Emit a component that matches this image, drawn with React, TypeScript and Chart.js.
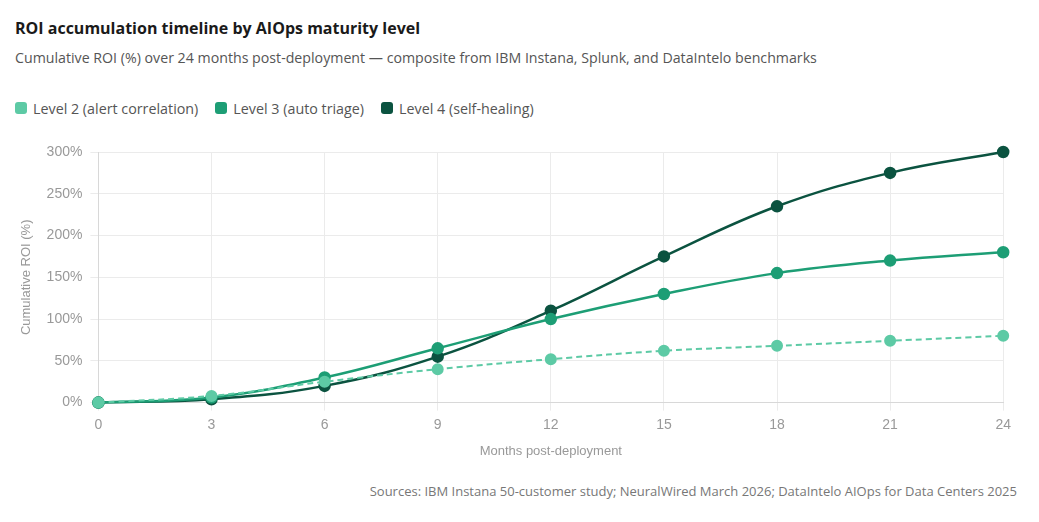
import React, { useEffect, useRef } from "react";
import { Chart, registerables } from "chart.js";

Chart.register(...registerables);

const months = [0, 3, 6, 9, 12, 15, 18, 21, 24];
const level2 = [0, 8, 25, 40, 52, 62, 68, 74, 80];
const level3 = [0, 6, 30, 65, 100, 130, 155, 170, 180];
const level4 = [0, 4, 20, 55, 110, 175, 235, 275, 300];
const seriesNames = ["Level 2 (alert correlation)", "Level 3 (auto triage)", "Level 4 (self-healing)"];
const seriesColors = ["#5dcaa5", "#1d9e75", "#0b5340"];

const HTML_FONT = '"Segoe UI", "Open Sans", "Noto Sans", sans-serif';

export default function App() {
  const canvasRef = useRef<HTMLCanvasElement>(null);

  useEffect(() => {
    if (!canvasRef.current) return;
    const mk = (i: number, data: number[], dashed: boolean) => ({
      label: seriesNames[i],
      data,
      borderColor: seriesColors[i],
      backgroundColor: seriesColors[i],
      borderWidth: dashed ? 2 : 2.5,
      borderDash: dashed ? [6, 4] : [],
      pointRadius: 5,
      pointHoverRadius: 6,
      pointBackgroundColor: seriesColors[i],
      pointBorderColor: seriesColors[i],
      tension: 0.4,
      fill: false,
      clip: false as any,
    });
    const chart = new Chart(canvasRef.current, {
      type: "line",
      data: {
        labels: months.map(String),
        datasets: [mk(0, level2, true), mk(1, level3, false), mk(2, level4, false)],
      },
      options: {
        animation: false,
        responsive: true,
        maintainAspectRatio: false,
        layout: { padding: { top: 22, right: 8, left: 0, bottom: 2 } },
        plugins: { legend: { display: false }, tooltip: { enabled: false } },
        scales: {
          x: {
            grid: { color: "#ebebeb" },
            border: { color: "#d8d8d8" },
            ticks: { color: "#999", font: { size: 14 }, padding: 6 },
            title: { display: true, text: "Months post-deployment", color: "#999", font: { size: 13 }, padding: { top: 4 } },
          },
          y: {
            min: 0,
            max: 300,
            grid: { color: "#ebebeb" },
            border: { color: "#d8d8d8" },
            ticks: { stepSize: 50, color: "#999", font: { size: 14 }, padding: 8, callback: (v: any) => v + "%" },
            title: { display: true, text: "Cumulative ROI (%)", color: "#999", font: { size: 13 } },
          },
        },
      },
    });
    return () => chart.destroy();
  }, []);

  return (
    <div style={{ fontFamily: HTML_FONT, padding: "0 6px 0 7px" }}>
      <div style={{ marginTop: 8, height: 24, lineHeight: "24px", fontSize: 16, fontWeight: 700, color: "#1a1a1a" }}>
        ROI accumulation timeline by AIOps maturity level
      </div>
      <div style={{ marginTop: 8, height: 20, lineHeight: "20px", fontSize: 14.2, color: "#555" }}>
        Cumulative ROI (%) over 24 months post-deployment — composite from IBM Instana, Splunk, and DataIntelo benchmarks
      </div>
      <div style={{ marginTop: 30, height: 20, display: "flex", alignItems: "center", fontSize: 14.3, color: "#555" }}>
        {seriesNames.map((n, i) => (
          <span key={n} style={{ display: "inline-flex", alignItems: "center", marginRight: 17 }}>
            <span style={{ width: 12, height: 12, borderRadius: 3, background: seriesColors[i], marginRight: 6, display: "inline-block" }} />
            {n}
          </span>
        ))}
      </div>
      <div style={{ marginTop: 12, height: 335, position: "relative", width: 1002 }}>
        <canvas ref={canvasRef} />
      </div>
      <div style={{ marginTop: 16, height: 20, lineHeight: "20px", fontSize: 13, color: "#777", textAlign: "right", width: 1002 }}>
        Sources: IBM Instana 50-customer study; NeuralWired March 2026; DataIntelo AIOps for Data Centers 2025
      </div>
    </div>
  );
}
